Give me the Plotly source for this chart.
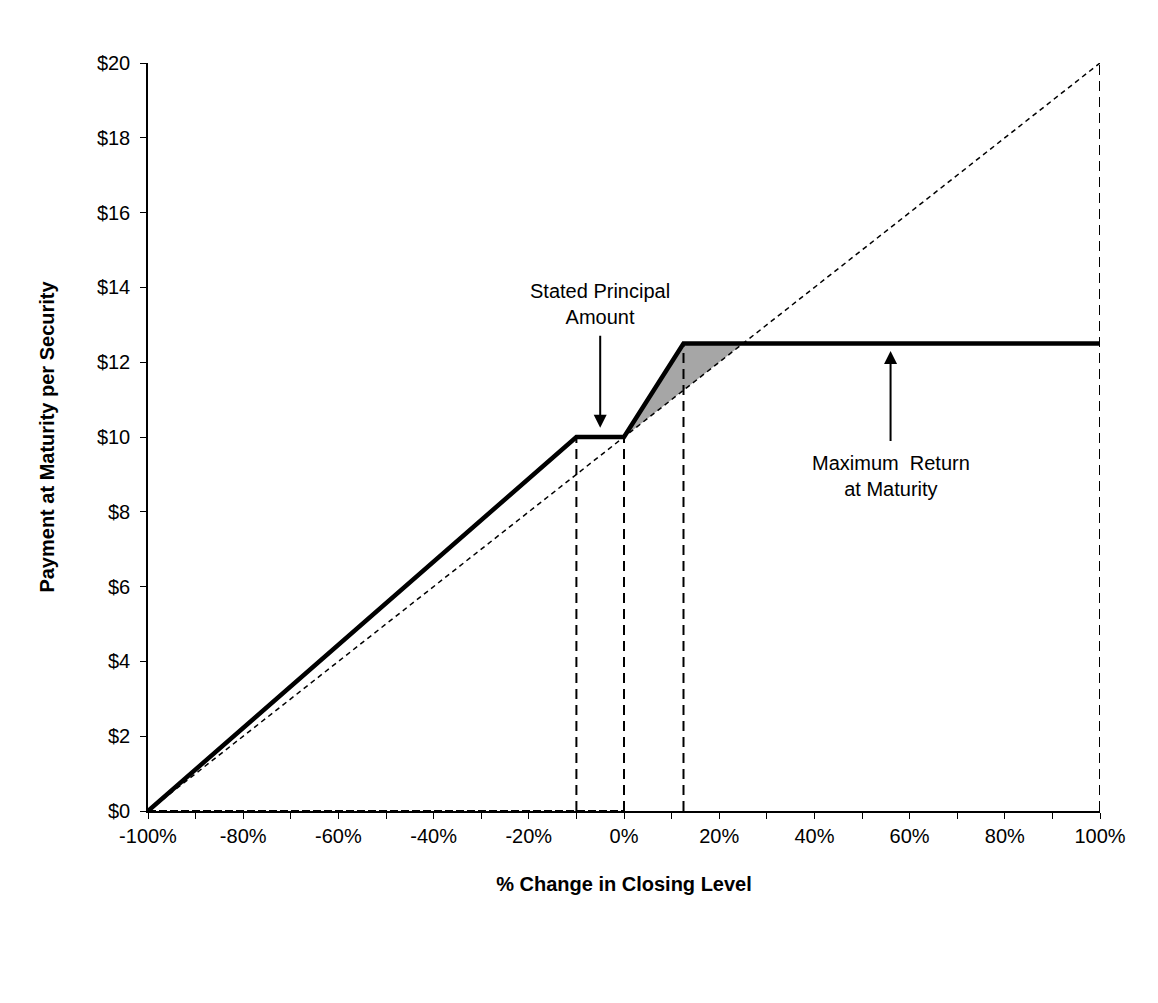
import plotly.graph_objects as go

# Data
pct_change = [-100, -10, 0, 12.5, 100]
payment = [0, 10, 10, 12.5, 12.5]
underlying_x = [-100, 100]
underlying_y = [0, 20]
fill_x = [0, 12.5, 25]
fill_upper = [10, 12.5, 12.5]
fill_lower = [10, 11.25, 12.5]
vline_x = [-10, 0, 12.5, 100]
vline_top = [10, 10, 12.5, 20]
x_ticks = list(range(-100, 101, 10))
y_ticks = list(range(0, 21, 2))

fig = go.Figure()

# gray shaded region
fig.add_trace(go.Scatter(x=fill_x, y=fill_lower, mode="lines",
                         line=dict(color="rgba(0,0,0,0)", width=0),
                         showlegend=False, hoverinfo="skip"))
fig.add_trace(go.Scatter(x=fill_x, y=fill_upper, mode="lines",
                         line=dict(color="rgba(0,0,0,0)", width=0),
                         fill="tonexty", fillcolor="#a6a6a6",
                         showlegend=False, hoverinfo="skip"))

# vertical dashed lines
for vx, vt in zip(vline_x, vline_top):
    fig.add_trace(go.Scatter(x=[vx, vx], y=[0, vt], mode="lines",
                             line=dict(color="black", width=2, dash="10px,6px"),
                             showlegend=False, hoverinfo="skip", cliponaxis=False))

# dashed baseline at y=0 on the left part
fig.add_trace(go.Scatter(x=[-100, 0], y=[0, 0], mode="lines",
                         line=dict(color="black", width=2, dash="8px,3px"),
                         showlegend=False, hoverinfo="skip", cliponaxis=False))

# underlying dashed line
fig.add_trace(go.Scatter(x=underlying_x, y=underlying_y, mode="lines",
                         line=dict(color="black", width=1.5, dash="5px,4px"),
                         showlegend=False, hoverinfo="skip", cliponaxis=False))

# payoff line
fig.add_trace(go.Scatter(x=pct_change, y=payment, mode="lines",
                         line=dict(color="black", width=4.5),
                         showlegend=False, cliponaxis=False))

font_main = "Liberation Sans, Arial, sans-serif"

fig.add_annotation(x=-5, y=10.25, ax=-5, ay=12.75, xref="x", yref="y",
                   axref="x", ayref="y", showarrow=True, arrowhead=2,
                   arrowsize=1.3, arrowwidth=2, arrowcolor="black", text="")
fig.add_annotation(x=-5, y=12.85, xref="x", yref="y", showarrow=False,
                   text="Stated Principal<br>Amount", yanchor="bottom",
                   font=dict(family=font_main, size=20, color="black"))

fig.add_annotation(x=56, y=12.3, ax=56, ay=9.85, xref="x", yref="y",
                   axref="x", ayref="y", showarrow=True, arrowhead=2,
                   arrowsize=1.3, arrowwidth=2, arrowcolor="black", text="")
fig.add_annotation(x=56, y=9.65, xref="x", yref="y", showarrow=False,
                   text="Maximum  Return<br>at Maturity", yanchor="top",
                   font=dict(family=font_main, size=20, color="black"))

fig.update_layout(
    width=1158, height=1003,
    margin=dict(l=140, r=66, t=55, b=200),
    paper_bgcolor="white", plot_bgcolor="white",
    font=dict(family=font_main, size=20, color="black"),
    showlegend=False,
    xaxis=dict(
        range=[-100, 100], showgrid=False, zeroline=False,
        showline=True, linecolor="black", linewidth=1.5,
        tickmode="array", tickvals=x_ticks,
        ticktext=[f"{v}%" if v % 20 == 0 else "" for v in x_ticks],
        ticks="outside", ticklen=6, tickcolor="black", tickwidth=1,
        title=dict(text="<b>% Change in Closing Level</b>",
                   font=dict(size=20), standoff=31),
    ),
    yaxis=dict(
        range=[0, 20], showgrid=False, zeroline=False,
        showline=True, linecolor="black", linewidth=1.5,
        tickmode="array", tickvals=y_ticks,
        ticktext=[f"${v}" for v in y_ticks],
        ticks="outside", ticklen=6, tickcolor="black", tickwidth=1,
        ticklabelstandoff=6,
        title=dict(text="<b>Payment at Maturity per Security</b>",
                   font=dict(size=20), standoff=37),
    ),
)

fig.write_html("out.html")
